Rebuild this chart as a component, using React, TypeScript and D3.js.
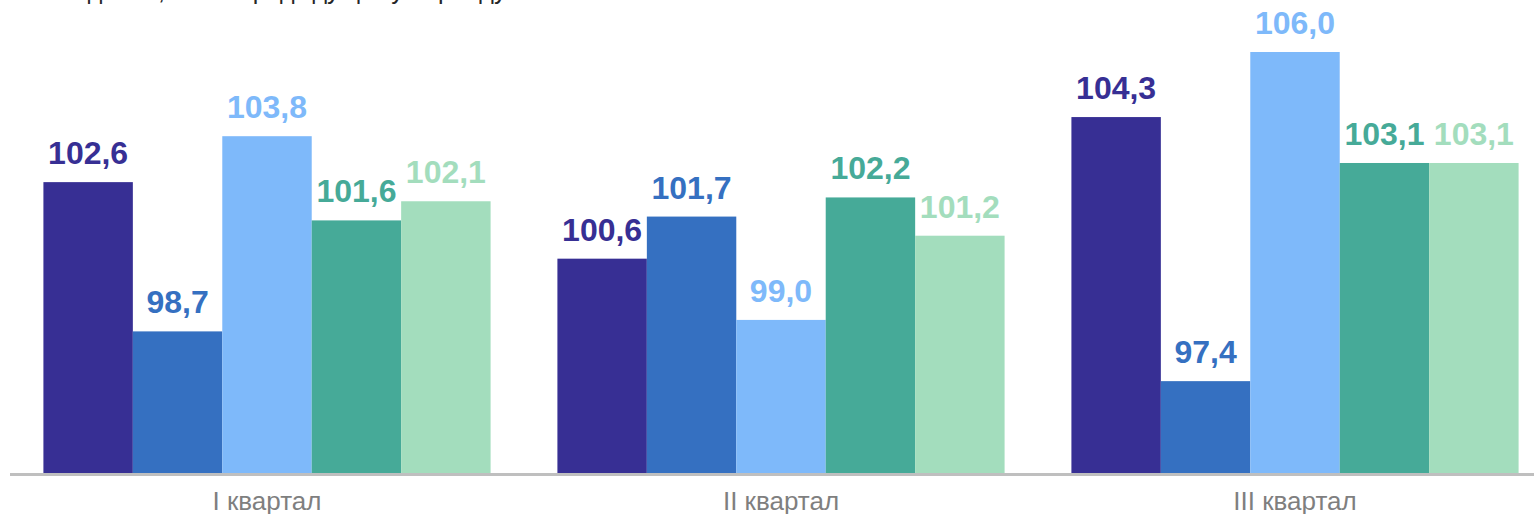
import React, { useEffect, useRef } from 'react';
import * as d3 from 'd3';

// quarters and series (index values, %)
const quarters = ['I квартал', 'II квартал', 'III квартал'];
const seriesKeys = ['s1', 's2', 's3', 's4', 's5'];
const s1 = [102.6, 100.6, 104.3];
const s2 = [98.7, 101.7, 97.4];
const s3 = [103.8, 99.0, 106.0];
const s4 = [101.6, 102.2, 103.1];
const s5 = [102.1, 101.2, 103.1];
const colors = ['#372F94', '#3570C1', '#7EB9FA', '#46AA98', '#A3DDBD'];
const titleText = 'Индексы, в % к предыдущему периоду';

const App = () => {
    const chartRef = useRef<SVGSVGElement>(null);

    useEffect(() => {
        const width = 1534;
        const svg = d3.select(chartRef.current);
        svg.selectAll('*').remove();

        const values = [s1, s2, s3, s4, s5];
        const data = quarters.map((q, i) => ({
            quarter: q,
            vals: seriesKeys.map((k, j) => ({ key: k, idx: j, value: values[j][i] }))
        }));

        const baseline = 473;

        // outer band per quarter
        const x0 = d3.scaleBand()
            .domain(quarters)
            .range([10, 1552])
            .paddingInner(0.13)
            .paddingOuter(0.065);

        const x1 = d3.scaleBand()
            .domain(seriesKeys)
            .range([0, x0.bandwidth()])
            .padding(0);

        const y = d3.scaleLinear()
            .domain([95, 106])
            .range([baseline, 52]);

        const font = '"Liberation Sans", Arial, sans-serif';

        // title sits above the visible area, only its descenders show
        svg.append('text')
            .attr('x', 56)
            .attr('y', -1)
            .attr('font-family', font)
            .attr('font-size', 25)
            .attr('fill', '#262626')
            .text(titleText);

        const groups = svg.selectAll('g.quarter')
            .data(data)
            .enter()
            .append('g')
            .attr('class', 'quarter')
            .attr('transform', d => `translate(${x0(d.quarter)},0)`);

        groups.selectAll('rect')
            .data(d => d.vals)
            .enter()
            .append('rect')
            .attr('x', d => x1(d.key)!)
            .attr('y', d => y(d.value))
            .attr('width', x1.bandwidth())
            .attr('height', d => baseline - y(d.value))
            .attr('fill', d => colors[d.idx]);

        groups.selectAll('text.val')
            .data(d => d.vals)
            .enter()
            .append('text')
            .attr('class', 'val')
            .attr('x', d => x1(d.key)! + x1.bandwidth() / 2)
            .attr('y', d => y(d.value) - 18)
            .attr('text-anchor', 'middle')
            .attr('font-family', font)
            .attr('font-size', 32)
            .attr('font-weight', 'bold')
            .attr('fill', d => colors[d.idx])
            .text(d => d.value.toFixed(1).replace('.', ','));

        // baseline axis
        svg.append('line')
            .attr('x1', 10)
            .attr('x2', width)
            .attr('y1', baseline + 1.5)
            .attr('y2', baseline + 1.5)
            .attr('stroke', '#BFBFBF')
            .attr('stroke-width', 3);

        // category labels
        svg.selectAll('text.cat')
            .data(quarters)
            .enter()
            .append('text')
            .attr('class', 'cat')
            .attr('x', d => x0(d)! + x0.bandwidth() / 2)
            .attr('y', 510)
            .attr('text-anchor', 'middle')
            .attr('font-family', font)
            .attr('font-size', 26)
            .attr('fill', '#7F7F7F')
            .text(d => d);
    }, []);

    return (
        <svg
            ref={chartRef}
            width={1534}
            height={514}
            style={{ position: 'fixed', left: 0, top: 0, background: '#fff' }}
        />
    );
};

export default App;
